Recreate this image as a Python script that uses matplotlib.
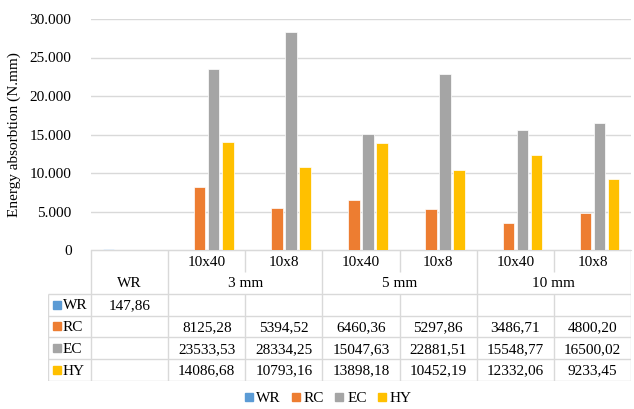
import numpy as np
import matplotlib.pyplot as plt
from matplotlib.ticker import FuncFormatter
from matplotlib.lines import Line2D

plt.rcParams['font.family'] = ['Liberation Serif', 'DejaVu Serif']
plt.rcParams['font.size'] = 11

sub_labels = ["", "10x40", "10x8", "10x40", "10x8", "10x40", "10x8"]
group_labels = ["WR", "3 mm", "5 mm", "10 mm"]
group_spans = [(0, 0), (1, 2), (3, 4), (5, 6)]
series = ["WR", "RC", "EC", "HY"]
colors = ["#5B9BD5", "#ED7D31", "#A5A5A5", "#FFC000"]

WR = [147.86, np.nan, np.nan, np.nan, np.nan, np.nan, np.nan]
RC = [np.nan, 8125.28, 5394.52, 6460.36, 5297.86, 3486.71, 4800.20]
EC = [np.nan, 23533.53, 28334.25, 15047.63, 22881.51, 15548.77, 16500.02]
HY = [np.nan, 14086.68, 10793.16, 13898.18, 10452.19, 12332.06, 9233.45]
values = [WR, RC, EC, HY]

GRID = "#D9D9D9"
W, H = 634, 409

def fx(px):
    return px / W

def fy(py):
    return 1 - py / H

fig = plt.figure(figsize=(6.34, 4.09), dpi=100)

# bar area
ax = fig.add_axes([fx(91), fy(250), fx(631) - fx(91), fy(19) - fy(250)])
n = len(sub_labels)
x = np.arange(n)
slot = 0.182
for i, (name, vals) in enumerate(zip(series, values)):
    ax.bar(x + (i - 1.5) * slot, vals, width=slot * 0.82, color=colors[i],
           edgecolor="white", linewidth=0.5, label=name, zorder=3)

ax.set_xlim(-0.5, n - 0.5)
ax.set_ylim(0, 30000)
ax.set_yticks(np.arange(0, 30001, 5000))
ax.yaxis.set_major_formatter(FuncFormatter(lambda v, p: f"{int(v):,}".replace(",", ".")))
ax.grid(axis="y", color=GRID, linewidth=1, zorder=0)
ax.set_xticks([])
for s in ["top", "right", "left"]:
    ax.spines[s].set_visible(False)
ax.spines["bottom"].set_color(GRID)
ax.tick_params(axis="y", length=0, pad=14, labelsize=11)
ax.set_ylabel("Energy absorbtion (N.mm)", fontsize=11, labelpad=6)

# data table underneath
left_units = -0.5 - 43 / 77.14
tb = fig.add_axes([fx(48), fy(381), fx(631) - fx(48), fy(250) - fy(381)])
tb.set_xlim(left_units, n - 0.5)
tb.set_ylim(6, 0)
tb.axis("off")

lk = dict(color=GRID, linewidth=1, solid_capstyle="butt")
for r in range(2, 7):
    tb.plot([left_units, n - 0.5], [r, r], **lk)
tb.plot([-0.5, n - 0.5], [0, 0], **lk)
tb.plot([left_units, left_units], [2, 6], **lk)
group_edges = {-0.5, 0.5, 2.5, 4.5, 6.5}
for b in np.arange(-0.5, n, 1.0):
    if b in group_edges:
        tb.plot([b, b], [0, 6], **lk)
    else:
        tb.plot([b, b], [0, 1], **lk)
        tb.plot([b, b], [2, 6], **lk)

for i, lab in enumerate(sub_labels):
    tb.text(i, 0.55, lab, ha="center", va="center", fontsize=11)
for lab, (a, b) in zip(group_labels, group_spans):
    tb.text((a + b) / 2, 1.55, lab, ha="center", va="center", fontsize=11)

for r, (name, vals) in enumerate(zip(series, values)):
    yy = r + 2.55
    tb.plot(left_units + 0.12, yy - 0.05, marker="s", markersize=6,
            color=colors[r], linestyle="none")
    tb.text(left_units + 0.19, yy, name, ha="left", va="center", fontsize=11)
    for i, v in enumerate(vals):
        if not np.isnan(v):
            tb.text(i, yy, f"{v:.2f}".replace(".", ","), ha="center",
                    va="center", fontsize=11)

handles = [Line2D([], [], marker="s", markersize=6, color=c, linestyle="none")
           for c in colors]
fig.legend(handles, series, loc="center", bbox_to_anchor=(fx(327), fy(398)),
           ncol=4, frameon=False, fontsize=11, handletextpad=0.1,
           columnspacing=0.6, handlelength=0.8)

fig.savefig("out.png", dpi=100)
